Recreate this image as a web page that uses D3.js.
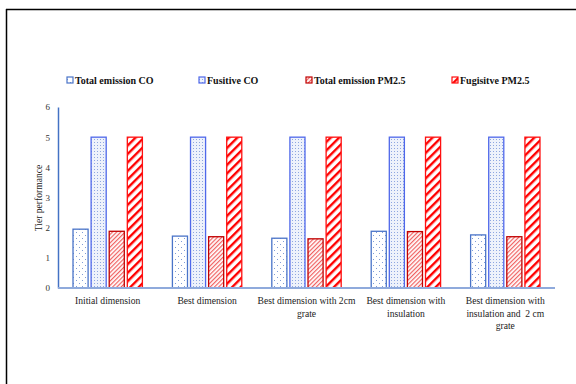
<!DOCTYPE html>
<html><head><meta charset="utf-8">
<script src="https://cdn.jsdelivr.net/npm/d3@7"></script>
<style>body{margin:0;background:#fff}svg{display:block}text{font-family:"Liberation Serif",serif;white-space:pre}</style>
</head><body>
<script>
const categories = [["Initial dimension"],["Best dimension"],["Best dimension with 2cm","grate"],["Best dimension with","insulation"],["Best dimension with","insulation and  2 cm","grate"]];
const seriesNames = ["Total emission CO","Fusitive CO","Total emission PM2.5","Fugisitve PM2.5"];
const totalCO = [1.95,1.72,1.65,1.88,1.76];
const fugitiveCO = [5,5,5,5,5];
const totalPM = [1.88,1.70,1.63,1.87,1.70];
const fugitivePM = [5,5,5,5,5];
const yTicks = [0,1,2,3,4,5,6];

const W=576,H=384;
const svg=d3.select("body").append("svg").attr("width",W).attr("height",H);
const defs=svg.append("defs");
const p1=defs.append("pattern").attr("id","p1").attr("patternUnits","userSpaceOnUse").attr("width",6).attr("height",6);
p1.append("rect").attr("width",6).attr("height",6).attr("fill","#fff");
p1.append("rect").attr("x",1).attr("y",1).attr("width",1).attr("height",1).attr("fill","#7f9bd6");
p1.append("rect").attr("x",4).attr("y",4).attr("width",1).attr("height",1).attr("fill","#7f9bd6");
const p2=defs.append("pattern").attr("id","p2").attr("patternUnits","userSpaceOnUse").attr("width",3).attr("height",3);
p2.append("rect").attr("width",3).attr("height",3).attr("fill","#eef2fb");
p2.append("rect").attr("x",1).attr("y",1).attr("width",1).attr("height",1).attr("fill","#8ea6e0");
const p3=defs.append("pattern").attr("id","p3").attr("patternUnits","userSpaceOnUse").attr("width",3).attr("height",3).attr("patternTransform","rotate(45)");
p3.append("rect").attr("width",3).attr("height",3).attr("fill","#fff");
p3.append("rect").attr("width",1.2).attr("height",3).attr("fill","#f06060");
const p4=defs.append("pattern").attr("id","p4").attr("patternUnits","userSpaceOnUse").attr("width",6).attr("height",6).attr("patternTransform","rotate(45)");
p4.append("rect").attr("width",6).attr("height",6).attr("fill","#fff");
p4.append("rect").attr("width",2.4).attr("height",6).attr("fill","#ff0000");

const fills=["url(#p1)","url(#p2)","url(#p3)","url(#p4)"];
const strokes=["#4a74c8","#4f68ea","#c00000","#ff1010"];
const series=[totalCO,fugitiveCO,totalPM,fugitivePM];

// border
svg.append("line").attr("x1",6).attr("x2",W).attr("y1",9.5).attr("y2",9.5).attr("stroke","#000").attr("stroke-width",1.5);
svg.append("line").attr("x1",6.5).attr("x2",6.5).attr("y1",9).attr("y2",H).attr("stroke","#000").attr("stroke-width",1.5);

const x=d3.scaleBand().domain(d3.range(categories.length)).range([58,555]);
const xs=d3.scaleBand().domain(d3.range(4)).range([x.bandwidth()*0.151,x.bandwidth()*0.849]).paddingInner(0.167);
const y=d3.scaleLinear().domain([0,6]).range([288,107]);

const g=svg.append("g");
categories.forEach((c,i)=>{
  series.forEach((s,j)=>{
    g.append("rect")
      .attr("x",x(i)+xs(j)).attr("y",y(s[i]))
      .attr("width",xs.bandwidth()).attr("height",y(0)-y(s[i]))
      .attr("fill",fills[j]).attr("stroke",strokes[j]).attr("stroke-width",1.3);
  });
});

const yAxis=d3.axisLeft(y).tickValues(yTicks).tickFormat(d3.format("d")).tickSize(0).tickPadding(8);
const ya=svg.append("g").attr("transform","translate(58,0)").call(yAxis);
ya.attr("font-family",null);
ya.select(".domain").attr("stroke","#4472c4").attr("stroke-width",1.5);
ya.selectAll("text").attr("font-size",9).attr("fill","#333");
svg.append("line").attr("x1",58).attr("x2",555).attr("y1",y(0)).attr("y2",y(0)).attr("stroke","#8faadc").attr("stroke-width",1.8);

categories.forEach((c,i)=>{
  const cx=x(i)+x.bandwidth()/2;
  const t=svg.append("text").attr("x",cx).attr("y",304)
    .attr("text-anchor","middle").attr("font-size",9.6).attr("fill","#222");
  c.forEach((line,k)=>t.append("tspan").attr("x",cx).attr("dy",k?12.5:0).text(line));
});

svg.append("text").attr("transform","translate(42,198) rotate(-90)").attr("text-anchor","middle")
  .attr("font-size",9.6).attr("fill","#222").text("Tier performance");

const legX=[67,199,306,452];
seriesNames.forEach((n,j)=>{
  svg.append("rect").attr("x",legX[j]).attr("y",77).attr("width",6).attr("height",6)
    .attr("fill",fills[j]).attr("stroke",strokes[j]).attr("stroke-width",1.2);
  svg.append("text").attr("x",legX[j]+8).attr("y",83.5)
    .attr("font-weight","bold").attr("font-size",10).attr("fill","#111").text(n);
});
</script>
</body></html>
